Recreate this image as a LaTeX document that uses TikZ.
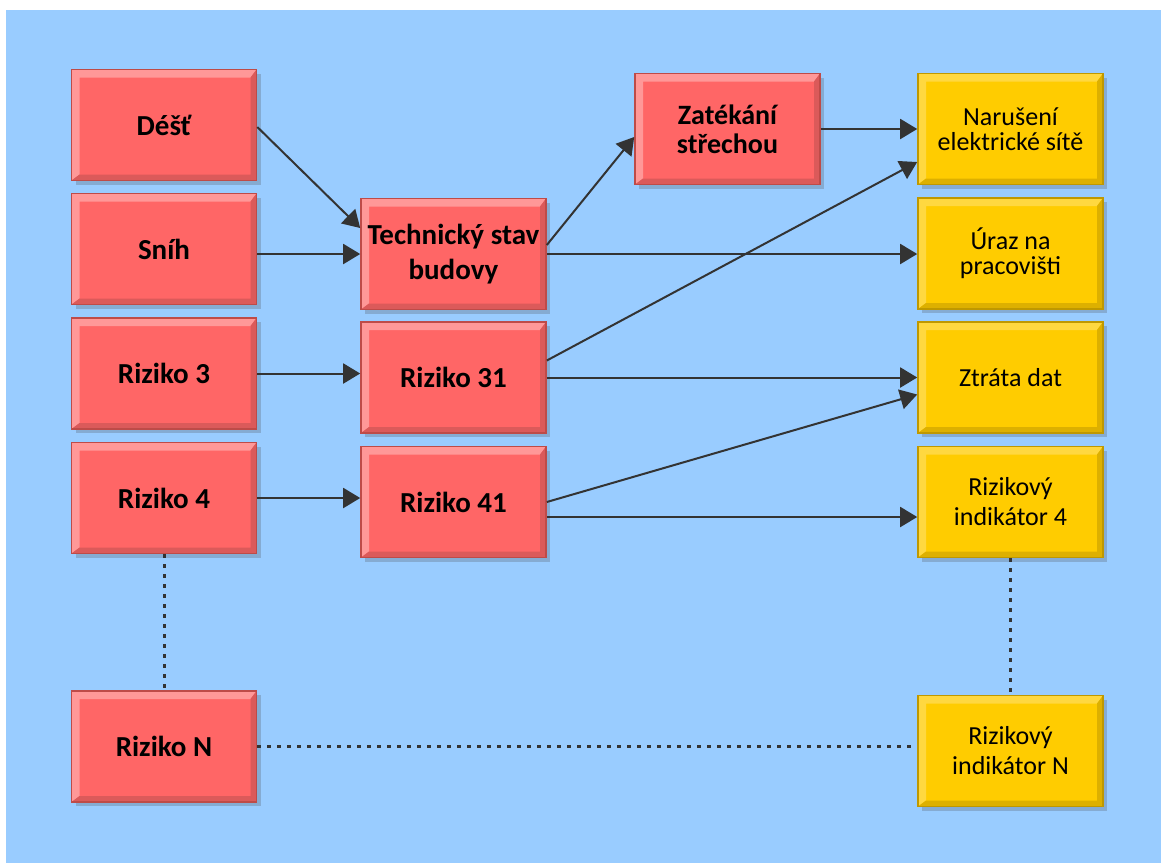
\documentclass[tikz,border=0pt]{standalone}
\usepackage{fontspec}
\setmainfont{Carlito}
\usetikzlibrary{arrows.meta,shadows,calc}
\definecolor{bgblue}{HTML}{99CCFF}
\definecolor{redfill}{HTML}{FF6666}
\definecolor{redborder}{HTML}{BE4B48}
\definecolor{redlight}{HTML}{FF9898}
\definecolor{reddark}{HTML}{DB5A5A}
\definecolor{yelfill}{HTML}{FFCC00}
\definecolor{yelborder}{HTML}{BF9800}
\definecolor{yellight}{HTML}{FFD840}
\definecolor{yeldark}{HTML}{DDB000}
\definecolor{arrowc}{HTML}{333333}
\newcommand\mybevel[2]{%
  \fill[#1] (path picture bounding box.north west) -- (path picture bounding box.north east)
    -- ([xshift=-6pt,yshift=-8pt]path picture bounding box.north east)
    -- ([xshift=8pt,yshift=-8pt]path picture bounding box.north west)
    -- ([xshift=8pt,yshift=6pt]path picture bounding box.south west)
    -- (path picture bounding box.south west) -- cycle;
  \fill[#2] (path picture bounding box.south east) -- (path picture bounding box.south west)
    -- ([xshift=8pt,yshift=6pt]path picture bounding box.south west)
    -- ([xshift=-6pt,yshift=6pt]path picture bounding box.south east)
    -- ([xshift=-6pt,yshift=-8pt]path picture bounding box.north east)
    -- (path picture bounding box.north east) -- cycle;}
\tikzset{
  basebox/.style={rectangle, minimum width=185pt, minimum height=111pt, inner sep=2pt,
    align=center, line width=1.6pt,
    drop shadow={shadow xshift=4pt, shadow yshift=-4pt, opacity=0.25, fill=black!70}},
  redbox/.style={basebox, fill=redfill, draw=redborder,
    path picture={\mybevel{redlight}{reddark}},
    font=\bfseries\fontsize{29}{35}\selectfont},
  yelbox/.style={basebox, fill=yelfill, draw=yelborder,
    path picture={\mybevel{yellight}{yeldark}},
    font=\fontsize{26}{30}\selectfont},
  yelsmall/.style={yelbox, font=\fontsize{26}{25}\selectfont},
  conn/.style={draw=arrowc, line width=2pt, -{Triangle[length=17pt,width=20pt]}},
  dotline/.style={draw=arrowc, line width=3pt, dash pattern=on 3.2pt off 6.8pt}
}
\begin{document}
\begin{tikzpicture}[x=1pt,y=-1pt]
\useasboundingbox (0,0) rectangle (1161,863);
\fill[white] (0,0) rectangle (1161,863);
\fill[bgblue] (6,10) rectangle (1161,863);

% column 1
\node[redbox] (desht) at (164,125) {Déšť};
\node[redbox] (snih) at (164,249) {Sníh};
\node[redbox] (r3) at (164,373.5) {Riziko 3};
\node[redbox] (r4) at (164,498) {Riziko 4};
\node[redbox] (rn) at (164,746.5) {Riziko N};
% column 2
\node[redbox] (tech) at (453.5,254) {Technický stav\\budovy};
\node[redbox] (r31) at (453.5,377.5) {Riziko 31};
\node[redbox] (r41) at (453.5,502) {Riziko 41};
% column 3
\node[redbox, font=\bfseries\fontsize{28}{29}\selectfont] (zat) at (727.5,129) {Zatékání\\střechou};
% column 4
\node[yelsmall] (naru) at (1010.5,129) {Narušení\\elektrické sítě};
\node[yelsmall] (uraz) at (1010.5,253.5) {Úraz na\\pracovišti};
\node[yelbox] (ztr) at (1010.5,377.5) {Ztráta dat};
\node[yelbox] (rin4) at (1010.5,502) {Rizikový\\indikátor 4};
\node[yelbox] (rinn) at (1010.5,751) {Rizikový\\indikátor N};

% connectors
\draw[conn] ([yshift=-2pt]desht.east) -- ([yshift=26pt]tech.west);
\draw[conn] (snih.east |- tech.west) -- (tech.west);
\draw[conn] ([yshift=9pt]tech.east) -- ([yshift=-8pt]zat.west);
\draw[conn] (tech.east) -- (uraz.west |- tech.east);
\draw[conn] ([yshift=17pt]r31.east) -- ([yshift=-33pt]naru.west);
\draw[conn] (zat.east) -- (naru.west);
\draw[conn] (r3.east) -- (r3.east -| r31.west);
\draw[conn] (r31.east) -- (ztr.west);
\draw[conn] (r41.east) -- ([yshift=-17pt]ztr.west);
\draw[conn] (r4.east) -- (r4.east -| r41.west);
\draw[conn] ([yshift=-15pt]r41.east) -- ([yshift=-15pt]r41.east -| rin4.west);

% dotted
\draw[dotline] (r4.south) -- (rn.north);
\draw[dotline] (rin4.south) -- (rinn.north);
\draw[dotline] (rn.east) -- (rn.east -| rinn.west);
\end{tikzpicture}
\end{document}
